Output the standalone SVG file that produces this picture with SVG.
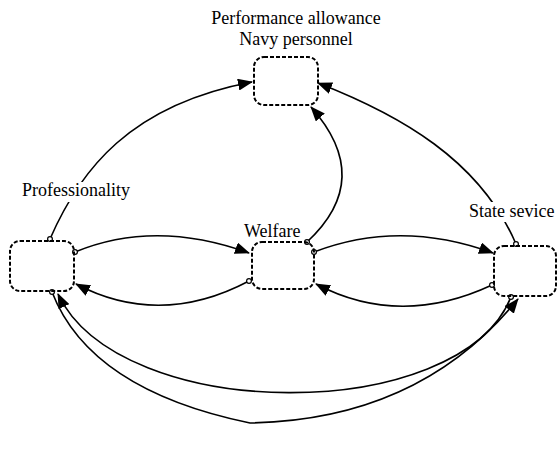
<svg xmlns="http://www.w3.org/2000/svg" width="558" height="451" viewBox="0 0 558 451">
<style>
.box{fill:none;stroke:#000;stroke-width:2;stroke-dasharray:4,2}
.lbl{font-family:"Liberation Serif","Times New Roman",serif;font-size:18px;fill:#000}
.bg{fill:#fff}
.con{fill:none;stroke:#000;stroke-width:1.6;marker-start:url(#dot);marker-end:url(#arr)}
</style>
<defs>
<marker id="arr" markerWidth="15" markerHeight="12" refX="14" refY="6" orient="auto" markerUnits="userSpaceOnUse"><path d="M0,0 L15,6 L0,12 z" fill="#000"/></marker>
<marker id="dot" markerWidth="8" markerHeight="8" refX="4" refY="4" markerUnits="userSpaceOnUse"><circle cx="4" cy="4" r="2.4" fill="#fff" stroke="#000" stroke-width="1.2"/></marker>
</defs>
<rect width="558" height="451" fill="#fff"/>
<g id="connectors">
<path id="c1" class="con" d="M50,239 C80,170 130,105 252,82"/>
<path id="c2" class="con" d="M307,242 Q375,179 311,107"/>
<path id="c3" class="con" d="M516,244 C480,160 400,115 318,83"/>
<path id="c4" class="con" d="M75,252 Q155,219 249,253"/>
<path id="c5" class="con" d="M249,281 Q160,328 76,284"/>
<path id="c6" class="con" d="M314,252 Q400,219 493,253"/>
<path id="c7" class="con" d="M492,285 Q400,328 316,284"/>
<path id="c8" class="con" d="M52,292 Q90,390 250,423 Q420,420 518,299"/>
<path id="c9" class="con" d="M511,297 C460,425 120,425 58,294"/>
</g>
<g id="node-performance">
<rect class="box" x="254" y="57" width="64" height="48" rx="10"/>
<text class="lbl" x="296" y="24" text-anchor="middle">Performance allowance</text>
<text class="lbl" x="296" y="45" text-anchor="middle">Navy personnel</text>
</g>
<g id="node-professionality">
<rect class="box" x="10" y="241" width="64" height="50" rx="10"/>
<rect class="bg" x="21" y="182" width="112" height="20"/>
<text class="lbl" x="22" y="196">Professionality</text>
</g>
<g id="node-welfare">
<rect class="box" x="252" y="242" width="62" height="47" rx="10"/>
<text class="lbl" x="244" y="237">Welfare</text>
</g>
<g id="node-state">
<rect class="box" x="494" y="246" width="62" height="50" rx="10"/>
<rect class="bg" x="468" y="202" width="88" height="20"/>
<text class="lbl" x="469" y="217">State sevice</text>
</g>
</svg>
